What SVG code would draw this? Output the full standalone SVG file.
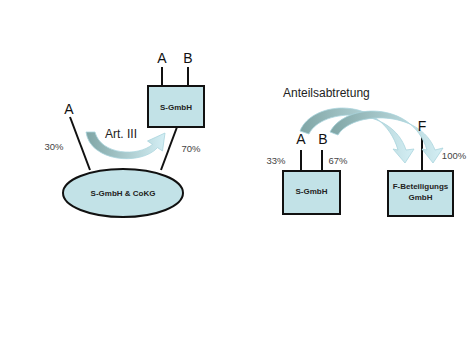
<svg xmlns="http://www.w3.org/2000/svg" width="470" height="353" viewBox="0 0 470 353">
<defs>
<linearGradient id="g1" x1="0" y1="0" x2="1" y2="0">
<stop offset="0" stop-color="#7fa5a5"/>
<stop offset="1" stop-color="#d4eff5"/>
</linearGradient>
<style>
.box{fill:#c2e2e7;stroke:#111;stroke-width:2}
.ln{stroke:#111;stroke-width:2;fill:none}
.lbl{font-family:"Liberation Sans",Arial,sans-serif;font-size:14px;fill:#111;text-anchor:middle}
.pct{font-family:"Liberation Sans",Arial,sans-serif;font-size:9.5px;fill:#444;text-anchor:middle}
.nt{font-family:"Liberation Sans",Arial,sans-serif;font-size:8px;font-weight:bold;fill:#222;text-anchor:middle}
.cap{font-family:"Liberation Sans",Arial,sans-serif;font-size:12px;fill:#222}
.arr{fill:url(#g1);stroke:#a9d4dd;stroke-width:0.8}
</style>
</defs>
<rect width="470" height="353" fill="#fff"/>
<g id="connectors">
<line class="ln" x1="162" y1="67" x2="162" y2="86"/>
<line class="ln" x1="188" y1="67" x2="188" y2="86"/>
<line class="ln" x1="70" y1="117" x2="90" y2="170"/>
<line class="ln" x1="177" y1="127" x2="161" y2="170"/>
<line class="ln" x1="301" y1="150" x2="301" y2="171"/>
<line class="ln" x1="322" y1="150" x2="322" y2="171"/>
<line class="ln" x1="422" y1="137" x2="422" y2="171"/>
</g>
<g id="node-sgmbh-left">
<rect class="box" x="148" y="86" width="56" height="41"/>
<text class="nt" x="176" y="110">S-GmbH</text>
</g>
<g id="node-kg">
<ellipse class="box" cx="123" cy="193" rx="60" ry="24"/>
<text class="nt" x="123" y="196">S-GmbH &amp; CoKG</text>
</g>
<g id="node-sgmbh-right">
<rect class="box" x="283" y="171" width="57" height="43"/>
<text class="nt" x="311.5" y="194">S-GmbH</text>
</g>
<g id="node-fbet">
<rect class="box" x="388" y="171" width="65" height="45"/>
<text class="nt" x="420.5" y="189">F-Beteiligungs</text>
<text class="nt" x="420.5" y="200">GmbH</text>
</g>
<g id="arrows">
<path class="arr" d="M86,132 C90,162 141,166 157.5,147.6 L162.5,151 L165,133 L147.5,141 L152.5,144.4 C138,157 101,155 95,132 Z"/>
<path class="arr" d="M300,131 C312,100 382,95 398,150 L393,149 L405,163 L414,149 L406,150 C392,106 322,107 309,134 Z"/>
<path class="arr" d="M330,132 C345,103 412,100 427,150 L422,149 L433,163 L443,148 L435,150 C420,109 352,111 338,135 Z"/>
</g>
<g id="labels">
<text class="lbl" x="162" y="63">A</text>
<text class="lbl" x="188" y="63">B</text>
<text class="lbl" x="69" y="114">A</text>
<text class="lbl" x="301" y="144">A</text>
<text class="lbl" x="323" y="144">B</text>
<text class="lbl" x="422" y="131">F</text>
<text class="pct" x="54" y="150">30%</text>
<text class="pct" x="191" y="152">70%</text>
<text class="pct" x="276" y="164">33%</text>
<text class="pct" x="338" y="164">67%</text>
<text class="pct" x="454" y="159">100%</text>
<text class="cap" x="105" y="138">Art. III</text>
<text class="cap" x="283" y="97">Anteilsabtretung</text>
</g>
</svg>
